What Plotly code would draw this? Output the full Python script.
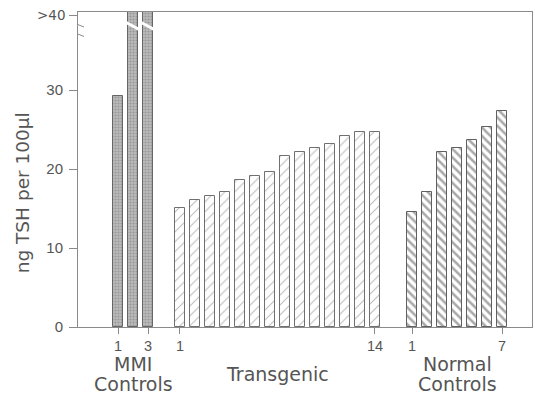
import plotly.graph_objects as go

# ---- data ----
mmi_labels = ["1", "2", "3"]
mmi_values = [29.2, 45, 45]          # bars 2 and 3 are ">40" (off scale)
trans_labels = [str(i) for i in range(1, 15)]
trans_values = [15.1, 16.1, 16.6, 17.1, 18.6, 19.1, 19.6, 21.7, 22.2, 22.7, 23.2, 24.2, 24.7, 24.7]
norm_labels = [str(i) for i in range(1, 8)]
norm_values = [14.6, 17.1, 22.2, 22.7, 23.7, 25.3, 27.3]
group_names = [["MMI", "Controls"], ["Transgenic"], ["Normal", "Controls"]]
y_tick_vals = [0, 10, 20, 30]
y_tick_text = ["0", "10", "20", "30"]

# ---- layout of groups on a numeric axis ----
starts = [1.0, 5.13, 20.6]
mmi_x = [starts[0] + i for i in range(len(mmi_values))]
trans_x = [starts[1] + i for i in range(len(trans_values))]
norm_x = [starts[2] + i for i in range(len(norm_values))]

FONT = "DejaVu Sans"
TICKFONT = "Liberation Sans"
TXT = "#555555"
AX = "#8a8a8a"
W = 0.68
YMAX = 39.9

fig = go.Figure()
fig.add_bar(x=mmi_x, y=mmi_values, width=W,
            marker=dict(color="#b0b0b0", line=dict(color="#666666", width=1),
                        pattern=dict(shape=".", fgcolor="#6f6f6f", bgcolor="#bcbcbc", size=3, solidity=0.4)))
fig.add_bar(x=trans_x, y=trans_values, width=W,
            marker=dict(color="white", line=dict(color="#707070", width=1),
                        pattern=dict(shape="/", fgcolor="#777777", bgcolor="white", size=7, solidity=0.15)))
fig.add_bar(x=norm_x, y=norm_values, width=W,
            marker=dict(color="white", line=dict(color="#606060", width=1),
                        pattern=dict(shape="\\", fgcolor="#555555", bgcolor="white", size=6, solidity=0.42)))

shapes = []
# white break across off-scale bars
for xv, v in zip(mmi_x, mmi_values):
    if v > YMAX:
        shapes.append(dict(type="line", xref="x", yref="y",
                           x0=xv - W / 2 - 0.15, x1=xv + W / 2 + 0.15, y0=38.6, y1=37.6,
                           line=dict(color="white", width=3)))
# axis break marks
xl = starts[0] - 2.67
shapes.append(dict(type="line", xref="x", yref="y", x0=xl - 0.3, x1=xl + 0.3, y0=38.45, y1=38.45,
                   line=dict(color="white", width=4)))
for dy in (0.0, 1.2):
    shapes.append(dict(type="line", xref="x", yref="y", x0=xl - 0.4, x1=xl + 0.4,
                       y0=38.6 - dy, y1=38.0 - dy, line=dict(color=AX, width=1)))
fig.update_layout(shapes=shapes)

# x tick labels: first and last of each group
xt_vals = [mmi_x[0], mmi_x[-1], trans_x[0], trans_x[-1], norm_x[0], norm_x[-1]]
xt_text = [mmi_labels[0], mmi_labels[-1], trans_labels[0], trans_labels[-1], norm_labels[0], norm_labels[-1]]

annotations = []
centers = [sum(mmi_x) / len(mmi_x), sum(trans_x) / len(trans_x), sum(norm_x) / len(norm_x)]
for c, lines in zip(centers, group_names):
    if len(lines) == 2:
        ys = [-0.119, -0.181]
    else:
        ys = [-0.148]
    for t, yy in zip(lines, ys):
        annotations.append(dict(x=c, y=yy, xref="x", yref="paper", text=t, showarrow=False,
                                xanchor="center", yanchor="middle",
                                font=dict(family=FONT, size=19, color=TXT)))
annotations.append(dict(x=-0.123, y=0.425, xref="paper", yref="paper", text="ng TSH per 100µl",
                        textangle=-90, showarrow=False, xanchor="center", yanchor="middle",
                        font=dict(family=FONT, size=18.5, color=TXT)))
annotations.append(dict(x=0, y=39.5, xref="paper", yref="y", text=">40", showarrow=False,
                        xanchor="right", yanchor="middle", xshift=-10,
                        font=dict(family=FONT, size=13.5, color=TXT)))
fig.update_layout(annotations=annotations)

fig.update_layout(
    width=535, height=395,
    margin=dict(l=78, r=3, t=12, b=68),
    paper_bgcolor="white", plot_bgcolor="white",
    showlegend=False, bargap=0,
    font=dict(family=FONT, size=13, color=TXT),
    xaxis=dict(range=[starts[0] - 2.67, norm_x[-1] + 2.0], tickmode="array", tickvals=xt_vals, ticktext=xt_text,
               ticks="outside", ticklen=6, tickcolor=AX, showgrid=False, zeroline=False,
               showline=True, linecolor=AX, linewidth=1, mirror=True,
               tickfont=dict(family=TICKFONT, size=14.5, color=TXT)),
    yaxis=dict(range=[0, YMAX], tickmode="array", tickvals=y_tick_vals + [39.5], ticktext=y_tick_text + [""],
               ticks="outside", ticklen=8, tickcolor=AX, showgrid=False, zeroline=False,
               showline=True, linecolor=AX, linewidth=1, mirror=True, ticklabelstandoff=3,
               tickfont=dict(family=TICKFONT, size=15, color=TXT)),
)

fig.write_html("out.html", config={"displayModeBar": False},
               post_script="document.body.style.margin='0';document.body.style.overflow='hidden';")
